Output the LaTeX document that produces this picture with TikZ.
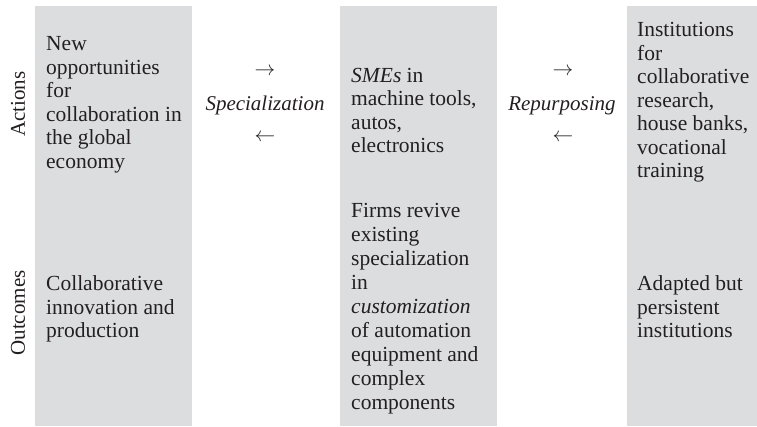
\documentclass[tikz,border=0pt]{standalone}
\usepackage{fontspec}
\setmainfont{Liberation Serif}
\definecolor{colbg}{RGB}{220,221,223}
\definecolor{ink}{RGB}{35,31,32}
\tikzset{
  txt/.style={anchor=base west, inner sep=0pt, align=left, text=ink,
    font=\fontsize{21.5bp}{23.5bp}\selectfont},
  txtwide/.style={txt, font=\fontsize{21.5bp}{24bp}\selectfont},
  lbl/.style={inner sep=0pt, text=ink, font=\fontsize{21bp}{23.5bp}\selectfont},
  rowlbl/.style={lbl, rotate=90},
  colbox/.style={fill=colbg, draw=none}
}
\begin{document}
\begin{tikzpicture}[x=1bp,y=-1bp]
\useasboundingbox (0,0) rectangle (757,426);
% columns
\path[colbox] (35,6) rectangle (192,426);
\path[colbox] (340,6) rectangle (497,426);
\path[colbox] (627,6) rectangle (757,426);
% row labels
\node[rowlbl] (actions) at (18,104) {Actions};
\node[rowlbl] (outcomes) at (18,313) {Outcomes};
% column 1 (anchors at the baseline of the last line)
\node[txt] (a1) at (46,168.2) {New\\opportunities\\for\\collaboration in\\the global\\economy};
\node[txt] (o1) at (46,337.5) {Collaborative\\innovation and\\production};
% column 2
\node[txt] (a2) at (351,152.5) {\textit{SMEs} in\\machine tools,\\autos,\\electronics};
\node[txtwide] (o2) at (351,409) {Firms revive\\existing\\specialization\\in\\\textit{customization}\\of automation\\equipment and\\complex\\components};
% column 3
\node[txt] (a3) at (637,177.5) {Institutions\\for\\collaborative\\research,\\house banks,\\vocational\\training};
\node[txt] (o3) at (637,337.5) {Adapted but\\persistent\\institutions};
% specialization
\node[lbl] (sr) at (265,72) {$\rightarrow$};
\node[lbl, anchor=base] (sp) at (265,110) {\textit{Specialization}};
\node[lbl] (sl) at (265,138) {$\leftarrow$};
% repurposing
\node[lbl] (rr) at (563,72) {$\rightarrow$};
\node[lbl, anchor=base] (rp) at (562,110) {\textit{Repurposing}};
\node[lbl] (rl) at (563,138) {$\leftarrow$};
\end{tikzpicture}
\end{document}
